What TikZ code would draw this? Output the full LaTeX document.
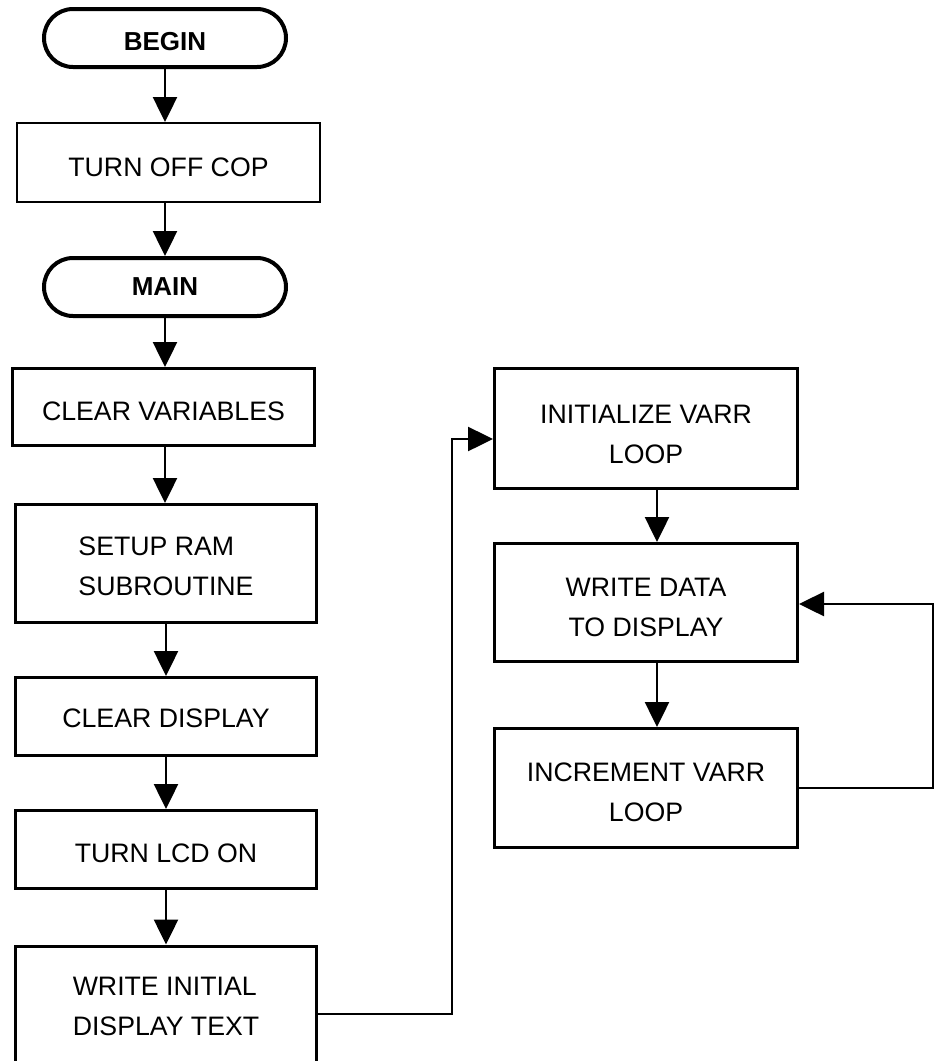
\documentclass[tikz,border=0pt]{standalone}
\usepackage{fontspec}
\setmainfont{Liberation Sans}
\usetikzlibrary{arrows.meta}

% lower a label inside its box without changing the box's extent
\newcommand\lowered[2]{\raisebox{-#1}[\height][\depth]{#2}}
% a stack of lines with a fixed pitch (taken from the current \baselineskip)
\newcommand\linestack[2]{\begin{tabular}{@{}#1@{}}#2\end{tabular}}

\begin{document}
\begin{tikzpicture}[x=1pt,y=-1pt,
  term/.style={draw, line width=4pt, rounded corners=29pt, inner sep=0pt,
    minimum width=242pt, minimum height=58pt,
    font=\bfseries\fontsize{26}{30}\selectfont},
  procbox/.style={draw, line width=3pt, inner sep=0pt,
    minimum width=301pt, minimum height=78pt,
    font=\fontsize{26.7}{40}\selectfont},
  tallbox/.style={procbox, minimum height=118pt},
  flow/.style={line width=2.5pt, -{Triangle[length=25pt,width=24pt]}}]
\useasboundingbox (0,0) rectangle (934,1061);

% main sequence
\node[term] (begin) at (165,38) {\lowered{3.5pt}{BEGIN}};
\node[procbox, line width=2pt, minimum width=303pt, minimum height=79pt] (cop) at (168.5,162.5) {\lowered{4.5pt}{TURN OFF COP}};
\node[term] (main) at (165,287) {MAIN};
\node[procbox, minimum width=302pt, minimum height=77pt] (clrvar) at (163.5,407) {\lowered{4pt}{CLEAR VARIABLES}};
\node[tallbox] (setup) at (166,563.5) {\lowered{3.5pt}{\linestack{l}{SETUP RAM\\ SUBROUTINE}}};
\node[procbox] (clrdisp) at (166,716.5) {\lowered{1.5pt}{CLEAR DISPLAY}};
\node[procbox] (lcd) at (166,849.5) {\lowered{3.5pt}{TURN LCD ON}};
\node[tallbox] (wrinit) at (166,1005) {\lowered{2.5pt}{\linestack{l}{WRITE INITIAL\\DISPLAY TEXT}}};

% display loop
\node[tallbox, minimum width=303pt, minimum height=120pt] (init) at (646,428.5) {\lowered{6.5pt}{\linestack{c}{INITIALIZE VARR\\LOOP}}};
\node[tallbox, minimum width=303pt] (wdata) at (646,602.5) {\lowered{6pt}{\linestack{c}{WRITE DATA\\TO DISPLAY}}};
\node[tallbox, minimum width=303pt, minimum height=119pt] (incr) at (646,788) {\lowered{5.5pt}{\linestack{c}{INCREMENT VARR\\LOOP}}};

% junction points of the routed connectors
\coordinate (j1) at (452,1014);
\coordinate (j2) at (452,439);
\coordinate (j3) at (933,788);
\coordinate (j4) at (933,604);

% connectors
\draw[flow] (begin.south) -- (begin.south |- cop.north);
\draw[flow] (begin.south |- cop.south) -- (begin.south |- main.north);
\draw[flow] (main.south) -- (main.south |- clrvar.north);
\draw[flow] (main.south |- clrvar.south) -- (main.south |- setup.north);
\draw[flow] (setup.south) -- (clrdisp.north);
\draw[flow] (clrdisp.south) -- (lcd.north);
\draw[flow] (lcd.south) -- (wrinit.north);

\draw[flow] (wrinit.east |- j1) -- (j1) -- (j2) -- (init.west |- j2);
\draw[flow] ([xshift=11pt]init.south) -- ([xshift=11pt]wdata.north);
\draw[flow] ([xshift=11pt]wdata.south) -- ([xshift=11pt]incr.north);
\draw[flow] (incr.east) -- (j3) -- (j4) -- (wdata.east |- j4);
\end{tikzpicture}
\end{document}
